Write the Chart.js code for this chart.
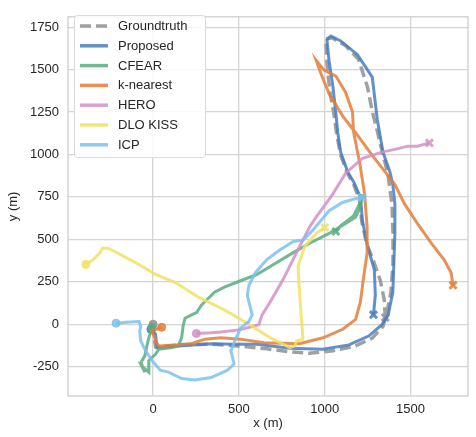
<!DOCTYPE html>
<html>
<head>
<meta charset="utf-8">
<script src="https://cdn.jsdelivr.net/npm/chart.js@4.4.1/dist/chart.umd.min.js"></script>
<style>
  html, body { margin: 0; padding: 0; background: #fff; }
  #wrap { width: 476px; height: 437px; }
</style>
</head>
<body>
<div id="wrap"><canvas id="c" width="476" height="437"></canvas></div>
<script>
// trajectories in metres
const gtX = [0, 4, 15, 147, 337, 491, 663, 795, 910, 1048, 1180, 1277, 1340, 1363, 1386, 1398, 1398, 1392, 1369, 1335, 1306, 1277, 1249, 1197, 1122, 1042, 1007, 1013, 1030, 1053, 1071, 1094, 1129, 1169, 1203, 1215, 1244, 1284, 1324, 1347, 1353];
const gtY = [0, -70, -134, -122, -117, -128, -145, -163, -171, -157, -128, -82, -13, 74, 189, 362, 535, 707, 880, 1018, 1139, 1254, 1399, 1560, 1641, 1687, 1681, 1537, 1370, 1243, 1111, 995, 897, 822, 736, 609, 477, 373, 258, 143, 39];

const propX = [-13, 14, 23, 147, 337, 491, 606, 797, 989, 1141, 1256, 1333, 1370, 1397, 1403, 1409, 1409, 1397, 1380, 1340, 1306, 1277, 1191, 1093, 1036, 1013, 1025, 1048, 1065, 1076, 1093, 1134, 1168, 1208, 1220, 1249, 1289, 1295, 1284];
const propY = [-30, -59, -138, -128, -115, -118, -118, -141, -147, -122, -70, -3, 55, 189, 362, 535, 707, 822, 897, 1012, 1208, 1456, 1588, 1669, 1698, 1675, 1554, 1399, 1244, 1128, 1013, 897, 840, 748, 609, 460, 322, 172, 56];

const cfearX = [-7, -30, -48, -71, -48, -65, -25, -25, 15, 33, 109, 147, 166, 176, 186, 224, 255, 281, 319, 358, 415, 510, 606, 702, 797, 912, 1026, 1103, 1180, 1208, 1214, 1220, 1203, 1168, 1094, 1065];
const cfearY = [-18, -99, -185, -226, -283, -249, -283, -214, -176, -147, -138, -128, -80, -3, 35, 55, 70, 112, 150, 189, 218, 256, 294, 352, 410, 477, 535, 582, 631, 688, 736, 765, 708, 638, 581, 546];

const knnX = [50, -7, 21, 33, 130, 222, 302, 394, 509, 646, 853, 990, 1105, 1180, 1208, 1225, 1247, 1247, 1232, 1205, 1168, 1162, 1122, 1065, 996, 950, 979, 1025, 1105, 1180, 1277, 1352, 1409, 1466, 1541, 1621, 1696, 1736, 1748];
const knnY = [-18, -41, -111, -128, -122, -115, -88, -80, -88, -109, -115, -80, -30, 28, 131, 264, 419, 575, 771, 944, 1134, 1250, 1365, 1462, 1497, 1555, 1474, 1359, 1226, 1128, 995, 897, 822, 707, 592, 477, 379, 304, 230];

const heroX = [252, 338, 396, 510, 616, 635, 682, 759, 835, 912, 950, 1046, 1122, 1218, 1333, 1409, 1485, 1542, 1591, 1610];
const heroY = [-55, -51, -46, -32, -3, 55, 131, 266, 421, 573, 631, 765, 890, 976, 1014, 1030, 1049, 1049, 1063, 1068];

const kissX = [-392, -350, -311, -296, -264, -206, -101, 14, 128, 262, 415, 549, 682, 797, 826, 835, 874, 864, 851, 845, 883, 950, 1000];
const kissY = [352, 381, 419, 448, 448, 419, 362, 294, 247, 160, 84, 6, -80, -138, -128, -99, -89, 35, 228, 343, 458, 535, 570];

const icpX = [-216, -158, -82, -72, -78, -72, -44, -6, 42, 90, 166, 243, 338, 434, 472, 463, 453, 472, 510, 558, 577, 568, 549, 558, 596, 663, 740, 817, 874, 931, 1026, 1103, 1180, 1218];
const icpY = [6, 12, 16, -13, -41, -99, -157, -214, -271, -282, -320, -329, -314, -271, -233, -195, -157, -109, -22, 16, 55, 93, 170, 228, 304, 381, 438, 487, 496, 554, 669, 717, 740, 746];

const seriesNames = ['Groundtruth', 'Proposed', 'CFEAR', 'k-nearest', 'HERO', 'DLO KISS', 'ICP'];
const seriesX = [gtX, propX, cfearX, knnX, heroX, kissX, icpX];
const seriesY = [gtY, propY, cfearY, knnY, heroY, kissY, icpY];
const seriesColors = ['rgba(150,150,150,0.9)', 'rgba(70,124,191,0.85)', 'rgba(88,172,130,0.85)',
  'rgba(228,126,56,0.85)', 'rgba(210,145,198,0.85)', 'rgba(240,226,96,0.85)', 'rgba(125,192,238,0.85)'];

const xTicks = [0, 500, 1000, 1500];
const yTicks = [-250, 0, 250, 500, 750, 1000, 1250, 1500, 1750];

const FONT = 'Liberation Sans, Arial, sans-serif';
const GRID = '#d4d4d4';
const TEXT = '#262626';

function pts(xs, ys) {
  return xs.map(function (x, i) { return { x: x, y: ys[i] }; });
}

const datasets = seriesNames.map(function (name, i) {
  const n = seriesX[i].length;
  return {
    label: name,
    data: pts(seriesX[i], seriesY[i]),
    showLine: true,
    borderColor: seriesColors[i],
    backgroundColor: seriesColors[i],
    borderWidth: i === 0 ? 3.5 : 3,
    borderDash: i === 0 ? [11, 5] : [],
    tension: 0,
    order: seriesNames.length - i,
    pointStyle: function (c) { return c.dataIndex === 0 ? 'circle' : 'crossRot'; },
    pointRadius: function (c) { return c.dataIndex === 0 ? 4 : (c.dataIndex === n - 1 ? 5 : 0); },
    pointBorderWidth: function (c) { return c.dataIndex === 0 ? 1 : 3; },
    pointBorderColor: seriesColors[i],
    pointBackgroundColor: seriesColors[i],
  };
});

/* frame round the plot area */
const framePlugin = {
  id: 'frame',
  beforeDatasetsDraw: function (chart) {
    const a = chart.chartArea, ctx = chart.ctx;
    ctx.save();
    ctx.strokeStyle = GRID;
    ctx.lineWidth = 1.5;
    ctx.strokeRect(a.left, a.top, a.right - a.left, a.bottom - a.top);
    ctx.restore();
  }
};

/* legend box top-left, like matplotlib */
const legendPlugin = {
  id: 'boxLegend',
  afterDraw: function (chart) {
    const ctx = chart.ctx;
    const x0 = 74.5, y0 = 15.5, w = 131, h = 142;
    ctx.save();
    ctx.fillStyle = 'rgba(255,255,255,0.85)';
    ctx.strokeStyle = '#d9d9d9';
    ctx.lineWidth = 1;
    ctx.beginPath();
    ctx.roundRect(x0, y0, w, h, 3);
    ctx.fill();
    ctx.stroke();
    ctx.font = '13px ' + FONT;
    ctx.textBaseline = 'middle';
    seriesNames.forEach(function (name, i) {
      const y = 26 + i * 19.8;
      ctx.strokeStyle = seriesColors[i];
      ctx.lineWidth = 3.5;
      ctx.setLineDash(i === 0 ? [11, 5] : []);
      ctx.beginPath();
      ctx.moveTo(80, y);
      ctx.lineTo(108, y);
      ctx.stroke();
      ctx.setLineDash([]);
      ctx.fillStyle = TEXT;
      ctx.fillText(name, 118, y + 0.5);
    });
    ctx.restore();
  }
};

function plainTick(v) { return String(v); }

new Chart(document.getElementById('c'), {
  type: 'scatter',
  data: { datasets: datasets },
  options: {
    responsive: false,
    animation: false,
    layout: { padding: { top: 8, right: 1, left: 0, bottom: 0 } },
    plugins: { legend: { display: false }, tooltip: { enabled: false } },
    scales: {
      x: {
        type: 'linear', min: -496, max: 1835,
        afterBuildTicks: function (s) { s.ticks = xTicks.map(function (v) { return { value: v }; }); },
        afterFit: function (s) { s.height = 41; },
        grid: { color: GRID, lineWidth: 1.3, drawTicks: false },
        border: { display: false },
        ticks: { padding: 6, color: TEXT, font: { family: FONT, size: 13 }, callback: plainTick },
        title: { display: true, text: 'x (m)', color: TEXT, font: { family: FONT, size: 13 }, padding: { top: 0, bottom: 6 } }
      },
      y: {
        type: 'linear', min: -423, max: 1811,
        afterBuildTicks: function (s) { s.ticks = yTicks.map(function (v) { return { value: v }; }); },
        afterFit: function (s) { s.width = 68; },
        grid: { color: GRID, lineWidth: 1.3, drawTicks: false },
        border: { display: false },
        ticks: { padding: 9, color: TEXT, font: { family: FONT, size: 13 }, callback: plainTick },
        title: { display: true, text: 'y (m)', color: TEXT, font: { family: FONT, size: 13 }, padding: { top: 6, bottom: 0 } }
      }
    }
  },
  plugins: [framePlugin, legendPlugin]
});
</script>
</body>
</html>
